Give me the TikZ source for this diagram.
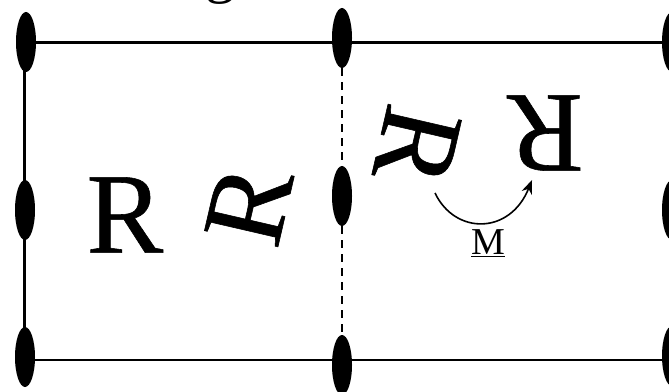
\documentclass[tikz,border=0pt]{standalone}
\usepackage{fontspec}
\setmainfont{Liberation Serif}
\newfontfamily\rfont{Liberation Serif}[FakeBold=0.5]
\usetikzlibrary{arrows.meta,shapes.geometric}
\begin{document}
\begin{tikzpicture}[x=1pt,y=1pt,
  dot/.style={fill=black,draw=none,ellipse,minimum width=20pt,minimum height=60pt,inner sep=0pt},
  edge/.style={line width=2.2pt},
  dashedge/.style={line width=2.2pt,dash pattern=on 8pt off 6pt},
  bigR/.style={inner sep=0pt,font=\rfont\fontsize{115}{115}\selectfont}
]
\useasboundingbox (0,0) rectangle (669,391);
\clip (0,0) rectangle (669,391);
% ellipses (y measured from top: Y = 391 - y)
\node[dot] (l1) at (26,349) {};
\node[dot] (l2) at (25,181) {};
\node[dot] (l3) at (25,34) {};
\node[dot] (m1) at (342,353) {};
\node[dot] (m2) at (342,195) {};
\node[dot] (m3) at (342,26) {};
\node[dot] (r1) at (672,349) {};
\node[dot] (r2) at (672,181) {};
\node[dot] (r3) at (672,35) {};
% lines
\coordinate (tl) at (24.5,348.5);
\coordinate (bl) at (24.5,31);
\coordinate (tm) at (342,348.5);
\coordinate (bm) at (342,31);
\coordinate (tr) at (672,348.5);
\coordinate (br) at (672,31);
\draw[edge] (tl) -- (tm) -- (tr);
\draw[edge] (bl) -- (bm) -- (br);
\draw[edge] (tl) -- (bl);
\draw[dashedge] (m1.south) -- (m2.north);
\draw[dashedge] (m2.south) -- (m3.north);
% letters
\node[bigR] (ra) at (125,176) {R};
\node[bigR,rotate=77] (rb) at (249,186) {R};
\node[bigR,rotate=-103] (rc) at (417,245) {R};
\node[bigR,rotate=180] (rd) at (545,258) {R};
% arrow
\coordinate (as) at (435,198);
\coordinate (ae) at (532,211);
\draw[line width=1.6pt,-{Stealth[length=14pt,width=11pt]}] (as) .. controls (455,156) and (510,156) .. (ae);
\node[inner sep=0pt,font=\fontsize{38}{38}\selectfont] (lm) at (488,148) {\underline{M}};
% cut-off text at top
\node[inner sep=0pt,anchor=base,font=\fontsize{60}{60}\selectfont] (tg) at (220,399) {g};
\end{tikzpicture}
\end{document}
